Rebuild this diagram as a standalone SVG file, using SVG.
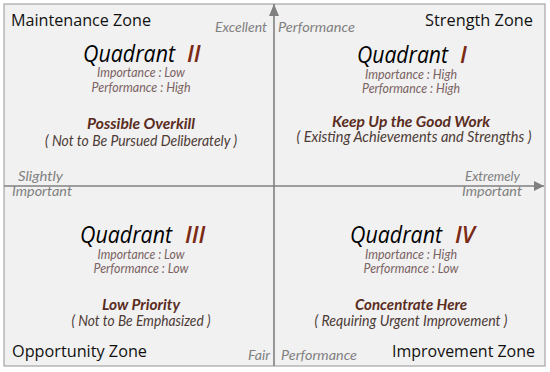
<svg xmlns="http://www.w3.org/2000/svg" width="550" height="372" viewBox="0 0 550 372">
<defs>
<style>
.zone{font-family:"Open Sans","Noto Sans",sans-serif;font-size:17px;fill:#111}
.ax{font-family:"Lato","Open Sans",sans-serif;font-style:italic;font-size:13px;fill:#808080}
.qt{font-family:"Open Sans","Noto Sans",sans-serif;font-style:italic;font-size:23px;fill:#000}
.qn{font-family:"Open Sans","Noto Sans",sans-serif;font-style:italic;font-size:23px;font-weight:600;fill:#7b2a14}
.ip{font-family:"Lato","Open Sans",sans-serif;font-style:italic;font-size:13px;fill:#7a6262}
.hd{font-family:"Lato","Open Sans",sans-serif;font-style:italic;font-size:16px;font-weight:700;fill:#5a2d1e}
.pr{font-family:"Lato","Open Sans",sans-serif;font-style:italic;font-size:15px;fill:#4d3b36}
</style>
<marker id="ah" viewBox="0 0 10 10" refX="10" refY="5" markerWidth="10" markerHeight="10" markerUnits="userSpaceOnUse" orient="auto">
<path d="M0,0 L10,5 L0,10 z" fill="#808080"/>
</marker>
<marker id="ahv" viewBox="0 0 12 10" refX="12" refY="5" markerWidth="12" markerHeight="10" markerUnits="userSpaceOnUse" orient="auto">
<path d="M0,0 L12,5 L0,10 z" fill="#808080"/>
</marker>
</defs>
<rect x="4" y="4" width="541" height="362" fill="#f1f1f1" stroke="#a6a6a6" stroke-width="1.2"/>
<g id="connectors" stroke="#808080" stroke-width="1.6" fill="none">
<line x1="274" y1="366" x2="274" y2="4" marker-end="url(#ahv)"/>
<line x1="4" y1="186" x2="544" y2="186" marker-end="url(#ah)"/>
</g>
<g id="axis-labels">
<text class="ax" x="267" y="32" text-anchor="end" textLength="52" lengthAdjust="spacingAndGlyphs">Excellent</text>
<text class="ax" x="278" y="32" textLength="77" lengthAdjust="spacingAndGlyphs">Performance</text>
<text class="ax" x="18" y="181" textLength="45" lengthAdjust="spacingAndGlyphs">Slightly</text>
<text class="ax" x="12" y="196" textLength="60" lengthAdjust="spacingAndGlyphs">Important</text>
<text class="ax" x="520" y="181" text-anchor="end" textLength="55" lengthAdjust="spacingAndGlyphs">Extremely</text>
<text class="ax" x="522" y="196" text-anchor="end" textLength="60" lengthAdjust="spacingAndGlyphs">Important</text>
<text class="ax" x="270" y="360" text-anchor="end" textLength="22" lengthAdjust="spacingAndGlyphs">Fair</text>
<text class="ax" x="281" y="360" textLength="76" lengthAdjust="spacingAndGlyphs">Performance</text>
</g>
<g id="quadrant-2">
<text class="zone" x="11" y="26" textLength="140" lengthAdjust="spacingAndGlyphs">Maintenance Zone</text>
<text class="qt" x="83" y="62" textLength="92" lengthAdjust="spacingAndGlyphs">Quadrant</text>
<text class="qn" x="187" y="62">II</text>
<text class="ip" x="141" y="77" text-anchor="middle" textLength="88" lengthAdjust="spacingAndGlyphs">Importance : Low</text>
<text class="ip" x="141" y="92" text-anchor="middle" textLength="99" lengthAdjust="spacingAndGlyphs">Performance : High</text>
<text class="hd" x="141" y="129" text-anchor="middle" textLength="108" lengthAdjust="spacingAndGlyphs">Possible Overkill</text>
<text class="pr" x="141" y="146" text-anchor="middle" textLength="192" lengthAdjust="spacingAndGlyphs">( Not to Be Pursued Deliberately )</text>
</g>
<g id="quadrant-1">
<text class="zone" x="533" y="26" text-anchor="end" textLength="108" lengthAdjust="spacingAndGlyphs">Strength Zone</text>
<text class="qt" x="357" y="63" textLength="91" lengthAdjust="spacingAndGlyphs">Quadrant</text>
<text class="qn" x="460" y="63">I</text>
<text class="ip" x="411" y="79" text-anchor="middle" textLength="92" lengthAdjust="spacingAndGlyphs">Importance : High</text>
<text class="ip" x="411" y="93" text-anchor="middle" textLength="98" lengthAdjust="spacingAndGlyphs">Performance : High</text>
<text class="hd" x="411" y="127" text-anchor="middle" textLength="158" lengthAdjust="spacingAndGlyphs">Keep Up the Good Work</text>
<text class="pr" x="414" y="142" text-anchor="middle" textLength="235" lengthAdjust="spacingAndGlyphs">( Existing Achievements and Strengths )</text>
</g>
<g id="quadrant-3">
<text class="zone" x="12" y="357" textLength="135" lengthAdjust="spacingAndGlyphs">Opportunity Zone</text>
<text class="qt" x="80" y="243" textLength="92" lengthAdjust="spacingAndGlyphs">Quadrant</text>
<text class="qn" x="185" y="243">III</text>
<text class="ip" x="141" y="259" text-anchor="middle" textLength="87" lengthAdjust="spacingAndGlyphs">Importance : Low</text>
<text class="ip" x="141" y="273" text-anchor="middle" textLength="95" lengthAdjust="spacingAndGlyphs">Performance : Low</text>
<text class="hd" x="141" y="310" text-anchor="middle" textLength="78" lengthAdjust="spacingAndGlyphs">Low Priority</text>
<text class="pr" x="141" y="326" text-anchor="middle" textLength="139" lengthAdjust="spacingAndGlyphs">( Not to Be Emphasized )</text>
</g>
<g id="quadrant-4">
<text class="zone" x="535" y="357" text-anchor="end" textLength="143" lengthAdjust="spacingAndGlyphs">Improvement Zone</text>
<text class="qt" x="350" y="243" textLength="92" lengthAdjust="spacingAndGlyphs">Quadrant</text>
<text class="qn" x="455" y="243">IV</text>
<text class="ip" x="411" y="259" text-anchor="middle" textLength="92" lengthAdjust="spacingAndGlyphs">Importance : High</text>
<text class="ip" x="411" y="273" text-anchor="middle" textLength="95" lengthAdjust="spacingAndGlyphs">Performance : Low</text>
<text class="hd" x="411" y="310" text-anchor="middle" textLength="112" lengthAdjust="spacingAndGlyphs">Concentrate Here</text>
<text class="pr" x="411" y="326" text-anchor="middle" textLength="193" lengthAdjust="spacingAndGlyphs">( Requiring Urgent Improvement )</text>
</g>
</svg>
